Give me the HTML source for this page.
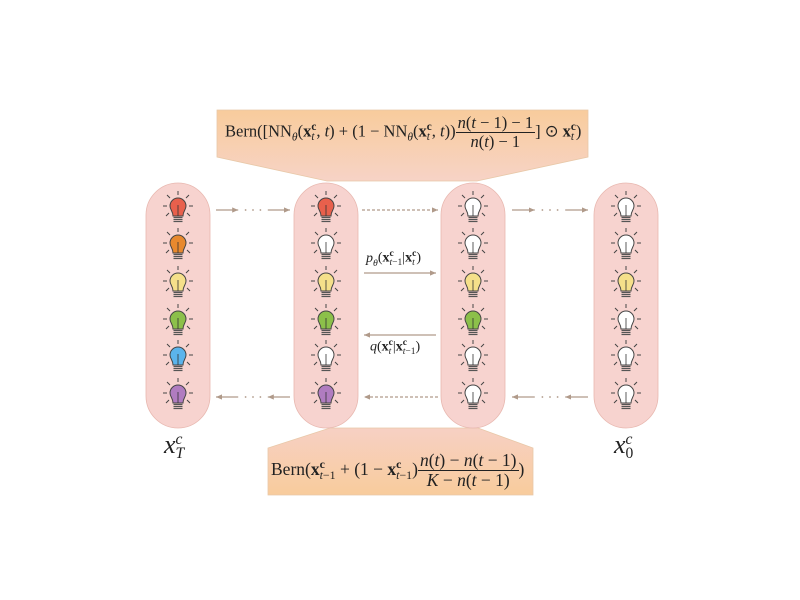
<!DOCTYPE html>
<html><head><meta charset="utf-8"><style>
body{margin:0;background:#fff;width:800px;height:600px;overflow:hidden;position:relative;font-family:"Liberation Serif",serif;}
.m{position:absolute;font-family:"Liberation Serif",serif;color:#222;white-space:nowrap;}
.fr{display:inline-block;vertical-align:middle;text-align:center;}
.fr span{display:block;line-height:1.1;}
.fr .n{border-bottom:1px solid #222;padding:0 2px;}
b{font-weight:bold}
sub,sup{font-size:70%;}
.ss{display:inline-block;vertical-align:-0.35em;font-size:68%;line-height:0.95;text-align:left;}
.ss span{display:block;}
</style></head><body>
<svg id="svg" width="800" height="600" style="position:absolute;left:0;top:0">
<defs>
<linearGradient id="gt" x1="0" y1="0" x2="0" y2="1"><stop offset="0" stop-color="#f8cc9c"/><stop offset="1" stop-color="#f7d3c6"/></linearGradient>
<linearGradient id="gb" x1="0" y1="0" x2="0" y2="1"><stop offset="0" stop-color="#f7d0c4"/><stop offset="1" stop-color="#f8cc9c"/></linearGradient>
<marker id="ah" markerWidth="6" markerHeight="6" refX="5" refY="3" orient="auto"><path d="M0,0.8 L5,3 L0,5.2z" fill="#b09a8a"/></marker>
</defs>
<path d="M217,110 H588 V157 L477,181 H327 L217,157 Z" fill="url(#gt)" stroke="#e8c8a8" stroke-width="0.8"/>
<path d="M330,428 H478 L533,448 V495 H268 V448 Z" fill="url(#gb)" stroke="#e8c8a8" stroke-width="0.8"/>
<g id="pills"></g>
<g id="arrows" stroke="#b09a8a" stroke-width="1.2" fill="none"></g>
<g id="bulbs"></g>
</svg>
<div class="m" style="left:225px;top:114px;font-size:16.5px;">Bern([NN<sub><i>θ</i></sub>(<b>x</b><span class="ss"><span><b>c</b></span><span><i>t</i></span></span>, <i>t</i>) + (1 − NN<sub><i>θ</i></sub>(<b>x</b><span class="ss"><span><b>c</b></span><span><i>t</i></span></span>, <i>t</i>))<span class="fr"><span class="n"><i>n</i>(<i>t</i> − 1) − 1</span><span><i>n</i>(<i>t</i>) − 1</span></span>] ⊙ <b>x</b><span class="ss"><span><b>c</b></span><span><i>t</i></span></span>)</div>
<div class="m" style="left:271px;top:451px;font-size:17.5px;">Bern(<b>x</b><span class="ss"><span><b>c</b></span><span><i>t</i>−1</span></span> + (1 − <b>x</b><span class="ss"><span><b>c</b></span><span><i>t</i>−1</span></span>)<span class="fr"><span class="n"><i>n</i>(<i>t</i>) − <i>n</i>(<i>t</i> − 1)</span><span><i>K</i> − <i>n</i>(<i>t</i> − 1)</span></span>)</div>
<div class="m" style="left:366px;top:250px;font-size:14px;"><i>p<sub>θ</sub></i>(<b>x</b><span class="ss"><span><b>c</b></span><span><i>t</i>−1</span></span>|<b>x</b><span class="ss"><span><b>c</b></span><span><i>t</i></span></span>)</div>
<div class="m" style="left:370px;top:339px;font-size:14px;"><i>q</i>(<b>x</b><span class="ss"><span><b>c</b></span><span><i>t</i></span></span>|<b>x</b><span class="ss"><span><b>c</b></span><span><i>t</i>−1</span></span>)</div>
<div class="m" style="left:164px;top:430px;font-size:26px;"><i>x</i><span class="ss" style="font-size:60%"><span><i>c</i></span><span><i>T</i></span></span></div>
<div class="m" style="left:614px;top:430px;font-size:26px;"><i>x</i><span class="ss" style="font-size:60%"><span><i>c</i></span><span>0</span></span></div>
<script>
const NS="http://www.w3.org/2000/svg";
const colX=[178,326,473,626];
const rowY=[207,244,282,320,356,394];
const W="#ffffff",R="#e8604c",O="#e8892e",Y="#f5e08a",G="#8cc04a",B="#5bb4ec",P="#b07cc0";
const colColors=[[R,O,Y,G,B,P],[R,W,Y,G,W,P],[W,W,Y,G,W,W],[W,W,Y,W,W,W]];
function mk(t,a,parent){const e=document.createElementNS(NS,t);for(const k in a)e.setAttribute(k,a[k]);parent.appendChild(e);return e;}
const pills=document.getElementById('pills');
colX.forEach((x,i)=>{
 const p=mk('rect',{x:x-32,y:183,width:64,height:245,rx:32,ry:32,fill:'#f7d3cf',stroke:'#e8b8b0','stroke-width':0.8},pills);
 
 
});
const bulbs=document.getElementById('bulbs');
colX.forEach((x,i)=>rowY.forEach((y,j)=>{
 const g=mk('g',{},bulbs);
 
 
 mk('path',{d:`M${x-5},${y+9} C${x-5},${y+4} ${x-8},${y+3} ${x-8},${y-1} A8,8 0 1 1 ${x+8},${y-1} C${x+8},${y+3} ${x+5},${y+4} ${x+5},${y+9} Z`,fill:colColors[i][j],stroke:'#444','stroke-width':1},g);
 mk('line',{x1:x,y1:y-2,x2:x,y2:y+9,stroke:'#333','stroke-width':0.8},g);
 for(let k=0;k<3;k++)mk('line',{x1:x-4.5,y1:y+10.5+k*2,x2:x+4.5,y2:y+10.5+k*2,stroke:'#555','stroke-width':1.2},g);
 [[0,-12,0,-16],[-8,-9,-11,-12],[8,-9,11,-12],[-11,-1,-15,-1],[11,-1,15,-1],[-9,6,-12,9],[9,6,12,9]].forEach(r=>mk('line',{x1:x+r[0],y1:y+r[1],x2:x+r[2],y2:y+r[3],stroke:'#444','stroke-width':1},g));
}));
const A=document.getElementById('arrows');
function arrow(x1,x2,y,dash,name){const l=mk('line',{x1,y1:y,x2,y2:y,'marker-end':'url(#ah)'},A);if(dash)l.setAttribute('stroke-dasharray',dash);}
function dotted(x1,x2,y,dir,name){
 const m1=x1+(x2-x1)*0.3,m2=x1+(x2-x1)*0.7;
 const l1=mk('line',{x1,y1:y,x2:m1,y2:y,'marker-end':'url(#ah)'},A);
 for(let k=0;k<3;k++)mk('circle',{cx:m1+(m2-m1)*(k+1)/4,cy:y,r:0.9,fill:'#b09a8a',stroke:'none'},A);
 const l2=mk('line',{x1:m2,y1:y,x2,y2:y,'marker-end':'url(#ah)'},A);
}
dotted(216,290,210,1,'forward-arrow-1');
arrow(362,438,210,'3,2','forward-arrow-2');
dotted(512,588,210,1,'forward-arrow-3');
dotted(290,216,397,-1,'backward-arrow-1');
arrow(438,364,397,'3,2','backward-arrow-2');
dotted(588,512,397,-1,'backward-arrow-3');
arrow(364,436,273,null,'p-theta-arrow');
arrow(436,364,335,null,'q-arrow');
</script>
</body></html>
